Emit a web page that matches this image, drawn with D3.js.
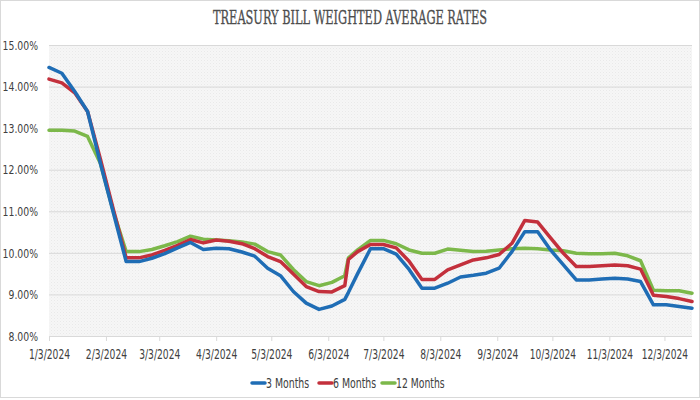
<!DOCTYPE html>
<html><head><meta charset="utf-8">
<script src="https://cdn.jsdelivr.net/npm/d3@7"></script>
<style>
html,body{margin:0;padding:0;background:#fff;}
svg{display:block;}
</style></head>
<body><svg id="c" width="700" height="400"></svg>
<script>
// ---- data ----
const dates = ["2024-01-03","2024-01-10","2024-01-17","2024-01-24","2024-01-31","2024-02-07","2024-02-14","2024-02-21","2024-02-28","2024-03-06",
"2024-03-13","2024-03-20","2024-03-27","2024-04-03","2024-04-10","2024-04-17","2024-04-24","2024-05-01","2024-05-08","2024-05-15",
"2024-05-22","2024-05-29","2024-06-05","2024-06-12","2024-06-14","2024-06-19","2024-06-26","2024-07-03","2024-07-10","2024-07-17",
"2024-07-24","2024-07-31","2024-08-07","2024-08-14","2024-08-21","2024-08-28","2024-09-04","2024-09-11","2024-09-18","2024-09-25",
"2024-10-02","2024-10-09","2024-10-16","2024-10-23","2024-10-30","2024-11-06","2024-11-13","2024-11-20","2024-11-27","2024-12-04",
"2024-12-11","2024-12-18"];
const threeMonths = [14.46,14.32,13.88,13.40,12.15,10.97,9.79,9.79,9.87,9.98,
10.12,10.25,10.08,10.11,10.10,10.02,9.92,9.63,9.45,9.07,
8.79,8.64,8.72,8.88,9.05,9.50,10.10,10.10,9.97,9.60,
9.15,9.15,9.27,9.42,9.46,9.51,9.63,10.03,10.51,10.51,
10.07,9.71,9.35,9.35,9.37,9.39,9.37,9.31,8.75,8.75,
8.71,8.67];
const sixMonths = [14.18,14.09,13.85,13.40,12.25,11.05,9.88,9.88,9.95,10.06,
10.18,10.32,10.24,10.31,10.28,10.22,10.10,9.91,9.79,9.49,
9.19,9.07,9.06,9.21,9.84,10.03,10.20,10.20,10.12,9.80,
9.36,9.36,9.59,9.71,9.83,9.88,9.96,10.23,10.78,10.74,
10.36,9.99,9.67,9.67,9.69,9.71,9.69,9.61,8.98,8.95,
8.90,8.83];
const twelveMonths = [12.95,12.95,12.93,12.80,12.15,11.00,10.03,10.03,10.08,10.17,
10.27,10.40,10.33,10.31,10.29,10.26,10.21,10.03,9.95,9.60,
9.31,9.21,9.29,9.45,9.88,10.07,10.30,10.30,10.22,10.07,
9.99,9.99,10.09,10.06,10.03,10.04,10.07,10.10,10.11,10.10,
10.07,10.05,9.99,9.98,9.98,9.99,9.93,9.81,9.10,9.09,
9.09,9.03];
const seriesNames = ["3 Months","6 Months","12 Months"];
const xTickLabels = ["1/3/2024","2/3/2024","3/3/2024","4/3/2024","5/3/2024","6/3/2024","7/3/2024","8/3/2024","9/3/2024","10/3/2024","11/3/2024","12/3/2024"];
const yTicks = [8,9,10,11,12,13,14,15];
const title = "TREASURY BILL WEIGHTED AVERAGE RATES";

// ---- drawing ----
const colors = ["#1f6db5","#c3303c","#7cb84a"];
const FONT = "'Liberation Sans Narrow','Arial Narrow','DejaVu Sans Condensed',sans-serif";
const svg = d3.select("#c");
const parse = d3.timeParse("%Y-%m-%d");
const parseTick = d3.timeParse("%m/%d/%Y");
const xDates = dates.map(parse);
const L = 49, R = 692, T = 45, B = 336;

const x = d3.scaleTime().domain([xDates[0], xDates[xDates.length-1]]).range([L, R]);
const y = d3.scaleLinear().domain([8, 15]).range([B, T]);

function fit(sel, perChar) {
  sel.each(function() {
    const t = d3.select(this);
    const max = this.textContent.length * perChar;
    if (this.getComputedTextLength() > max) t.attr("textLength", max).attr("lengthAdjust","spacingAndGlyphs");
  });
}

svg.append("rect").attr("x",0.5).attr("y",0.5).attr("width",699).attr("height",397)
  .attr("fill","#fff").attr("stroke","#d9d9d9");

const defs = svg.append("defs");
const pat = defs.append("pattern").attr("id","dots").attr("width",3).attr("height",3).attr("patternUnits","userSpaceOnUse");
pat.append("rect").attr("width",3).attr("height",3).attr("fill","#f6f6f6");
pat.append("rect").attr("width",1).attr("height",1).attr("fill","#e9e9e9");
pat.append("rect").attr("x",1.5).attr("y",1.5).attr("width",1).attr("height",1).attr("fill","#eeeeee");
svg.append("rect").attr("x",L).attr("y",T).attr("width",R-L).attr("height",B-T).attr("fill","url(#dots)");

svg.append("text").attr("x",350).attr("y",24).attr("text-anchor","middle")
  .attr("font-family","'DejaVu Serif Condensed','Liberation Serif',serif")
  .attr("font-size",18).attr("fill","#4d4d4d").attr("stroke","#4d4d4d").attr("stroke-width",0.3)
  .attr("textLength",274).attr("lengthAdjust","spacingAndGlyphs")
  .text(title);

const yAxis = d3.axisLeft(y).tickValues(yTicks).tickSize(-(R-L)).tickPadding(11)
  .tickFormat(d => d3.format(".2f")(d) + "%");
const gy = svg.append("g").attr("transform",`translate(${L},0)`).call(yAxis);
gy.select(".domain").remove();
gy.selectAll(".tick line").attr("stroke","#d9d9d9").attr("stroke-width",1);
gy.selectAll(".tick text").attr("font-family",FONT)
  .attr("font-size",13).attr("fill","#404040").call(fit, 5.9);

const xAxis = d3.axisBottom(x).tickValues(xTickLabels.map(parseTick)).tickSize(5).tickPadding(8)
  .tickFormat(d => xTickLabels.find(s => +parseTick(s) === +d));
const gx = svg.append("g").attr("transform",`translate(0,${B})`).call(xAxis);
gx.select(".domain").attr("stroke","#d9d9d9").attr("d",`M${L},0.5H${R}`);
gx.selectAll(".tick line").attr("stroke","#d9d9d9");
gx.selectAll(".tick text").attr("font-family",FONT)
  .attr("font-size",14).attr("fill","#404040").call(fit, 5.15);

const allSeries = [threeMonths, sixMonths, twelveMonths];
const line = d3.line().x((d,i) => x(xDates[i])).y(d => y(d));
[2,1,0].forEach(k => {
  svg.append("path").datum(allSeries[k]).attr("d", line)
    .attr("fill","none").attr("stroke",colors[k]).attr("stroke-width",3.5)
    .attr("stroke-linejoin","round").attr("stroke-linecap","round");
});

const legX = [252, 319, 382];
const lg = svg.append("g");
seriesNames.forEach((n,k) => {
  lg.append("line").attr("x1",legX[k]).attr("x2",legX[k]+13).attr("y1",383).attr("y2",383)
    .attr("stroke",colors[k]).attr("stroke-width",3.5).attr("stroke-linecap","round");
  lg.append("text").attr("x",legX[k]+14).attr("y",388)
    .attr("font-family",FONT).attr("font-size",14).attr("fill","#404040")
    .text(n).call(fit, 5.4);
});
</script></body></html>
